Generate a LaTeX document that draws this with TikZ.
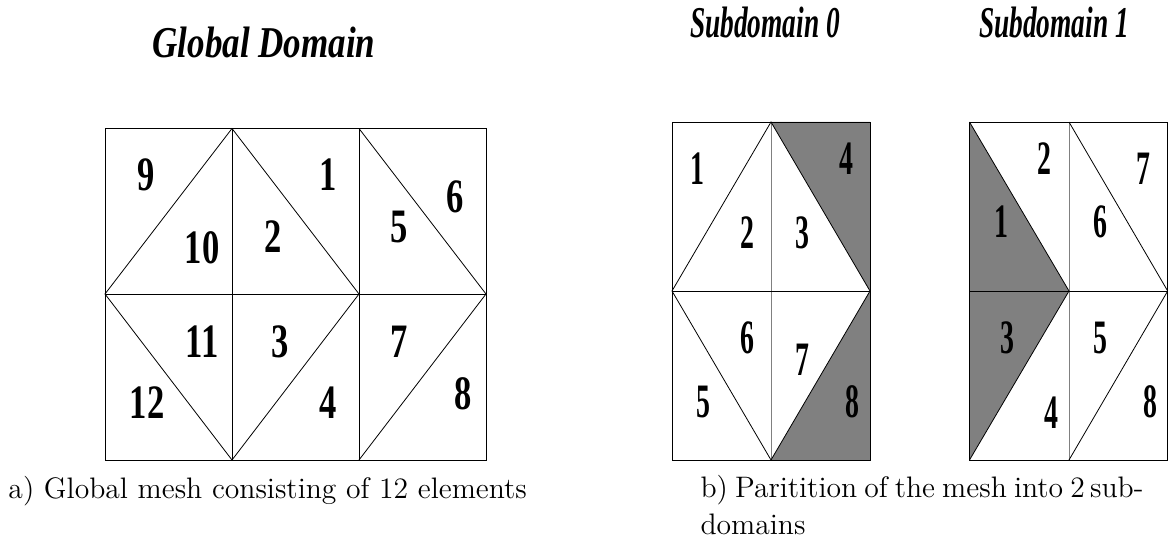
\documentclass[tikz,border=0pt]{standalone}
\usepackage{fontspec}
\newfontfamily\elemfont[FakeStretch=0.72]{Liberation Serif}
\newfontfamily\subelemfont[FakeStretch=0.58]{Liberation Serif}
\newfontfamily\titlefont[FakeStretch=0.796]{Liberation Serif}
\newfontfamily\subtitlefont[FakeStretch=0.622]{Liberation Serif}
\begin{document}
\begin{tikzpicture}[
  x=1pt, y=-1pt,
  every node/.style={inner sep=0pt},
  meshline/.style={draw=black, line width=0.8pt},
  cutline/.style={draw=black!50, line width=0.9pt},
  part/.style={fill=black!50},
  lab/.style={font=\fontsize{48}{48}\elemfont\bfseries},
  sublab/.style={font=\fontsize{48}{48}\subelemfont\bfseries},
  head/.style={font=\fontsize{44}{44}\titlefont\bfseries\itshape},
  subhead/.style={font=\fontsize{44}{44}\subtitlefont\bfseries\itshape},
  caption/.style={font=\fontsize{12}{14.6}\selectfont, scale=2.47, anchor=base west, align=left}
]
  \useasboundingbox (0,0) rectangle (1168,540);

  % global mesh
  \draw[meshline] (105,128.5) rectangle (486,460);
  \draw[meshline] (105,294) -- (486,294);
  \draw[meshline] (232,128.5) -- (232,460);
  \draw[meshline] (359,128.5) -- (359,460);
  \draw[meshline] (105,294) -- (232,128.5) -- (359,294) -- (232,460) -- cycle;
  \draw[meshline] (359,128.5) -- (486,294) -- (359,460);

  % subdomain 0
  \fill[part] (771,122) -- (870,122) -- (870,291) -- cycle;
  \fill[part] (771,460) -- (870,460) -- (870,291) -- cycle;
  \draw[cutline] (771,122) -- (771,460);
  \draw[meshline] (672,122) rectangle (870,460);
  \draw[meshline] (672,291) -- (870,291);
  \draw[meshline] (672,291) -- (771,122) -- (870,291) -- (771,460) -- cycle;

  % subdomain 1
  \fill[part] (969.5,122) -- (1069,291) -- (969.5,291) -- cycle;
  \fill[part] (969.5,291) -- (1069,291) -- (969.5,460) -- cycle;
  \draw[cutline] (1069,122) -- (1069,460);
  \draw[meshline] (969.5,122) rectangle (1167.7,460);
  \draw[meshline] (969.5,291) -- (1167.7,291);
  \draw[meshline] (969.5,122) -- (1069,291) -- (969.5,460);
  \draw[meshline] (1069,122) -- (1167.7,291) -- (1069,460);

  \node[head] (hglobal) at (264,42) {Global Domain};
  \node[subhead] (hsub0) at (765,22) {Subdomain 0};
  \node[subhead] (hsub1) at (1054,22) {Subdomain 1};

  \node[lab] (g9) at (146,175) {9};
  \node[lab] (g10) at (202,248) {10};
  \node[lab] (g2) at (273,237) {2};
  \node[lab] (g1) at (328,175) {1};
  \node[lab] (g5) at (399,227) {5};
  \node[lab] (g6) at (455,197) {6};
  \node[lab] (g11) at (202,342) {11};
  \node[lab] (g3) at (280,342) {3};
  \node[lab] (g7) at (399,342) {7};
  \node[lab] (g12) at (147,403) {12};
  \node[lab] (g4) at (328,403) {4};
  \node[lab] (g8) at (463,394) {8};

  \node[sublab] (a1) at (697,169) {1};
  \node[sublab] (a2) at (747,233) {2};
  \node[sublab] (a3) at (802,233) {3};
  \node[sublab] (a4) at (846,159) {4};
  \node[sublab] (a6) at (747,338) {6};
  \node[sublab] (a7) at (802,360) {7};
  \node[sublab] (a5) at (703,402) {5};
  \node[sublab] (a8) at (852,402) {8};

  \node[sublab] (b2) at (1044,159) {2};
  \node[sublab] (b7) at (1143,169) {7};
  \node[sublab] (b1) at (1001,222) {1};
  \node[sublab] (b6) at (1100,222) {6};
  \node[sublab] (b3) at (1007,338) {3};
  \node[sublab] (b5) at (1100,338) {5};
  \node[sublab] (b4) at (1051,413) {4};
  \node[sublab] (b8) at (1150,402) {8};

  \node[caption] (capa) at (8,498) {a) Global mesh consisting of 12 elements};
  \node[caption] (capb) at (700,534) {\spaceskip=0.24em b) Paritition of the mesh into 2\hspace{0.18em}sub-\\domains};
\end{tikzpicture}
\end{document}
